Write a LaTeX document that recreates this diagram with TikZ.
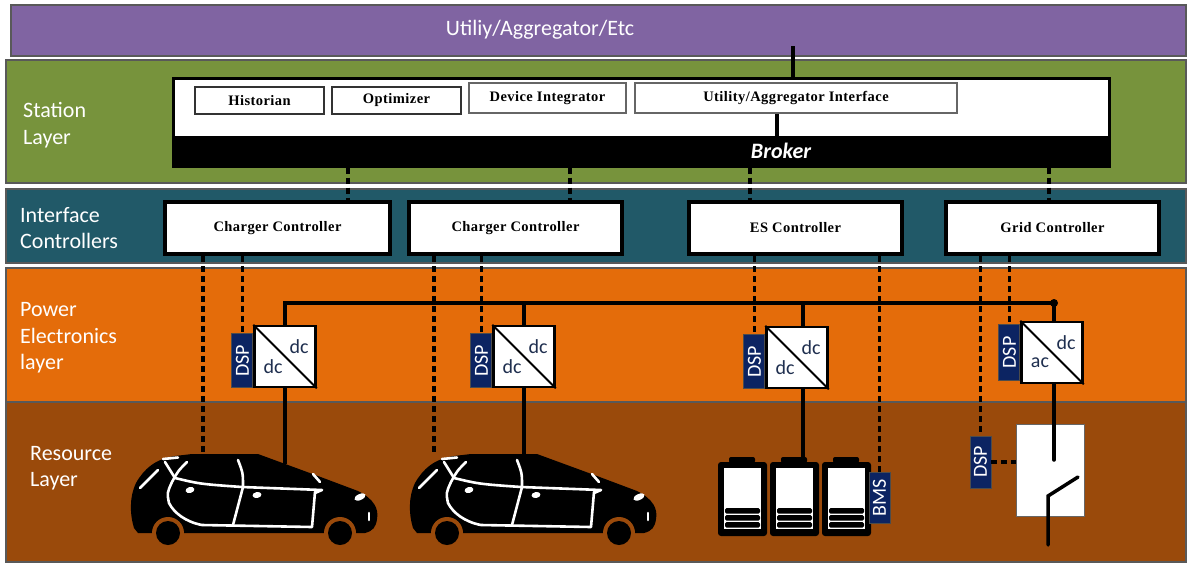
\documentclass[tikz,border=0pt]{standalone}
\usepackage{fontspec}
\usepackage{graphicx}
\setmainfont{Carlito}
\newfontfamily\tnr[LetterSpace=3]{Liberation Serif}
\usetikzlibrary{positioning}

\definecolor{utilpurple}{HTML}{8064A2}
\definecolor{stationgreen}{HTML}{77933C}
\definecolor{ctrlteal}{HTML}{215968}
\definecolor{peorange}{HTML}{E46C0A}
\definecolor{resbrown}{HTML}{9A4A0B}
\definecolor{dspblue}{HTML}{0C2462}
\definecolor{convtext}{HTML}{1F2F4F}

% hatchback silhouette, origin = top left of the body
\tikzset{
  car/.pic={
    \fill[black] (4,75) .. controls (0,62) and (-1,45) .. (6,30)
      .. controls (14,16) and (25,6) .. (45,3) -- (62,1) -- (128,1)
      -- (188,23) -- (228,38) .. controls (244,46) and (249,56) .. (247,66)
      .. controls (246,74) and (243,78) .. (235,80) -- (8,80) -- cycle;
    \begin{scope}[draw=white, line width=2.6pt, line cap=round, line join=round]
      \draw (10,35) -- (28,17);
      \draw (33,6) -- (48,4.5);
      \draw (57,9) .. controls (48,18) .. (42,29) .. controls (37,40) .. (39,50)
        .. controls (44,60) and (56,69) .. (72,72) -- (182,74) -- (185,39);
      \draw (35,9) -- (45,25) .. controls (70,31) .. (112,34) -- (192,37) -- (185,40);
      \draw (108,7) .. controls (113,20) .. (113,34) -- (103,72);
      \draw (183,21) -- (190,29);
      \draw (239,60) -- (239,67);
    \end{scope}
    \fill[white, rotate around={15:(60,37)}] (60,37) ellipse (4.5pt and 3pt);
    \fill[white, rotate around={10:(127,42)}] (127,42) ellipse (4.5pt and 3pt);
    \fill[white, rotate around={25:(230,44)}] (230,44) ellipse (6pt and 3pt);
    \foreach \wx in {38,210} {
      \fill[resbrown] (\wx,80) circle (16pt);
      \fill[black] (\wx,80) circle (12pt);
    }
  },
  battery/.pic={
    \fill[black, rounded corners=2pt] (11,-5) rectangle (37,1);
    \fill[black, rounded corners=3pt] (0,0) rectangle (49,74);
    \fill[white] (6,6) rectangle (43,67);
    \foreach \by in {46,53,60}
      \fill[black, rounded corners=1.5pt] (7,\by) rectangle (42,\by+5.5);
  }
}

\begin{document}
\begin{tikzpicture}[x=1pt, y=-1pt,
    band/.style={draw=black!65, line width=1.2pt},
    layer/.style={text=white, font=\fontsize{22}{26.5}\selectfont, align=left, inner sep=0pt, anchor=west},
    modbox/.style={draw=black!80, line width=1.8pt, fill=white, inner sep=0pt,
      font=\tnr\bfseries\fontsize{14.5}{16}\selectfont},
    ctrl/.style={draw=black, line width=4pt, fill=white, minimum height=52pt, inner sep=0pt,
      font=\tnr\bfseries\fontsize{14.5}{16}\selectfont},
    conv/.style={draw=black, line width=2.5pt, fill=white, minimum size=61pt, inner sep=0pt},
    dsp/.style={draw=black!70, line width=0.8pt, fill=dspblue, text=white, minimum width=21pt,
      inner sep=0pt, font=\fontsize{20}{20}\selectfont},
    cv/.style={text=convtext, font=\fontsize{20}{20}\selectfont, inner sep=0pt},
    power/.style={line width=3.5pt},
    sig/.style={line width=3.6pt, dash pattern=on 6pt off 4pt}
]
    \useasboundingbox (0,0) rectangle (1188,566);

    % layer bands
    \draw[band, fill=utilpurple]   (11,5)  rectangle (1186,56);
    \draw[band, fill=stationgreen] (6,60)  rectangle (1186,183);
    \draw[band, fill=ctrlteal]     (6,189) rectangle (1186,263);
    \draw[band, fill=peorange]     (6,268) rectangle (1186,402);
    \draw[band, fill=resbrown]     (6,402) rectangle (1186,562);

    \node[layer, anchor=center] (utiltxt) at (540,30) {Utiliy/Aggregator/Etc};
    \node[layer] (stationtxt) at (23,125) {Station\\Layer};
    \node[layer] (ctrltxt) at (20,228) {Interface\\Controllers};
    \node[layer] (petxt) at (20,338) {Power\\Electronics\\layer};
    \node[layer] (restxt) at (30,468) {Resource\\Layer};

    % station layer
    \node[draw=black, line width=3pt, fill=white, minimum width=936pt, minimum height=59pt] (stn) at (641,107.5) {};
    \node[draw=black, line width=3pt, fill=black, minimum width=936pt, minimum height=29pt] (brk) at (641,151.5) {};
    \node[text=white, font=\fontsize{22}{22}\selectfont\bfseries\itshape, inner sep=0pt] (brktxt) at (781,151) {Broker};

    \node[modbox, minimum width=129pt, minimum height=27pt] (hist) at (259.5,100.5) {Historian};
    \node[modbox, minimum width=129pt, minimum height=27pt] (opt) at (396.5,100.5) {Optimizer};
    \node[modbox, draw=black!60, line width=1.3pt, minimum width=157pt, minimum height=30pt] (devint) at (547.5,98) {Device Integrator};
    \node[modbox, draw=black!60, line width=1.3pt, minimum width=322pt, minimum height=30pt] (uai) at (796,98) {Utility/Aggregator Interface};

    \coordinate (utl) at (793,46);
    \draw[power] (utl) -- (utl |- stn.north);
    \draw[power] ([xshift=-19pt]uai.south) -- ([xshift=-19pt]uai.south |- brk.north);

    % interface controllers
    \node[ctrl, minimum width=225pt] (cc1) at (277.5,228) {Charger Controller};
    \node[ctrl, minimum width=213pt] (cc2) at (515.5,228) {Charger Controller};
    \node[ctrl, minimum width=213pt] (esc) at (795.5,228) {ES Controller};
    \node[ctrl, minimum width=213pt] (grc) at (1052.5,228) {Grid Controller};

    \foreach \x/\c in {348/cc1, 570/cc2, 750/esc, 1049/grc}
      \draw[sig] (\x,0 |- brk.south) -- (\x,0 |- \c.north);

    % power electronics
    \node[conv] (c1) at (285,356.5) {};
    \node[conv] (c2) at (524,356.5) {};
    \node[conv] (c3) at (797,357.5) {};
    \node[conv] (c4) at (1052,352.5) {};

    \foreach \c in {c1,c2,c3,c4}
      \draw[line width=2pt] (\c.north west) -- (\c.south east);
    \foreach \c/\lo in {c1/dc, c2/dc, c3/dc, c4/ac} {
      \node[cv] at ([shift={(14pt,10pt)}]\c.center) {dc};
      \node[cv] at ([shift={(-12pt,-10pt)}]\c.center) {\lo};
    }

    \node[dsp, minimum height=54pt, anchor=south east] (d1) at (c1.south west) {\rotatebox{90}{DSP}};
    \node[dsp, minimum height=54pt, anchor=south east] (d2) at (c2.south west) {\rotatebox{90}{DSP}};
    \node[dsp, minimum height=54pt, anchor=south east] (d3) at (c3.south west) {\rotatebox{90}{DSP}};
    \node[dsp, minimum height=56pt, left=0pt of c4] (d4) {\rotatebox{90}{DSP}};

    % dc bus
    \coordinate (bus1) at (285,303);
    \coordinate (bus2) at (524,303);
    \coordinate (bus3) at (803,303);
    \coordinate (bus4) at (1054,303);
    \draw[power, line width=4pt] (bus1 |- c1.north) -- (bus1) -- (bus4);
    \fill (bus4) circle (4pt);
    \draw[power] (bus2) -- (bus2 |- c2.north);
    \draw[power] (bus3) -- (bus3 |- c3.north);
    \draw[power] (bus4) -- (bus4 |- c4.north);

    % resources
    \pic (car1) at (130,453) {car};
    \pic (car2) at (409,453) {car};
    \pic (bat1) at (718,462) {battery};
    \pic (bat2) at (770,462) {battery};
    \pic (bat3) at (822,462) {battery};

    \node[dsp, minimum height=51pt] (bms) at (879.5,497.5) {\rotatebox{90}{BMS}};
    \node[dsp, minimum height=52pt] (d5) at (980.5,462) {\rotatebox{90}{DSP}};
    \node[draw=black!60, line width=1pt, fill=white, minimum width=68pt, minimum height=92pt] (sw) at (1050,470) {};

    \coordinate (car1sig) at (203,453);
    \coordinate (car1pwr) at (285,464);
    \coordinate (car2sig) at (434,453);
    \coordinate (car2pwr) at (524,454);
    \coordinate (batcap) at (803,457);
    \coordinate (swtop) at (1054,460);
    \coordinate (swpivot) at (1048,496);
    \coordinate (swblade) at (1078,477);
    \coordinate (swbot) at (1048,545);

    \draw[power] (c1.south -| car1pwr) -- (car1pwr);
    \draw[power] (c2.south -| car2pwr) -- (car2pwr);
    \draw[power] (c3.south -| batcap) -- (batcap);
    \draw[power, line cap=round] (c4.south -| swtop) -- (swtop);
    \draw[power, line cap=round] (swbot) -- (swpivot) -- (swblade);

    % control links
    \draw[sig] (car1sig |- cc1.south) -- (car1sig);
    \draw[sig] (d1.north |- cc1.south) -- (d1.north);
    \draw[sig] (car2sig |- cc2.south) -- (car2sig);
    \draw[sig] (d2.north |- cc2.south) -- (d2.north);
    \draw[sig] (d3.north |- esc.south) -- (d3.north);
    \draw[sig] (bms.north |- esc.south) -- (bms.north);
    \draw[sig] (d5.north |- grc.south) -- (d5.north);
    \draw[sig] (d4.north |- grc.south) -- (d4.north);
    \draw[sig] (d5.east) -- (d5.east -| sw.west);
\end{tikzpicture}
\end{document}
